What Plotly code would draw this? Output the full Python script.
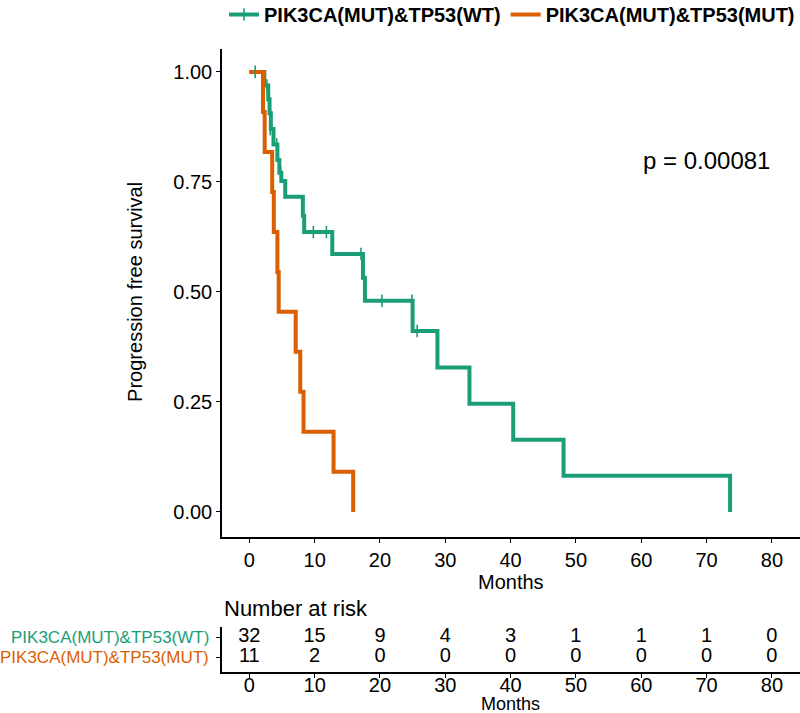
import plotly.graph_objects as go

# ---- data ----
wt_name = "PIK3CA(MUT)&TP53(WT)"
mut_name = "PIK3CA(MUT)&TP53(MUT)"

wt_times = [0, 2.3, 2.9, 3.1, 3.3, 3.7, 4.3, 4.6, 4.9, 5.5, 8.2, 8.4, 12.7, 17.4, 17.7,
            25.0, 28.8, 33.7, 40.4, 48.1, 73.6]
wt_surv = [1.0, 0.969, 0.938, 0.906, 0.870, 0.835, 0.800, 0.771, 0.752, 0.716, 0.673, 0.636,
           0.586, 0.532, 0.480, 0.411, 0.328, 0.246, 0.164, 0.082, 0.0]
wt_cens_times = [0.9, 2.7, 3.2, 4.2, 4.8, 9.8, 11.8, 17.1, 20.3, 24.9, 25.7]
wt_cens_surv = [1.0, 0.969, 0.870, 0.835, 0.771, 0.636, 0.636, 0.586, 0.480, 0.480, 0.411]

mut_times = [0, 2.1, 2.35, 3.5, 3.75, 4.3, 4.5, 7.1, 7.8, 8.3, 12.9, 15.9]
mut_surv = [1.0, 0.909, 0.818, 0.727, 0.636, 0.545, 0.455, 0.364, 0.273, 0.182, 0.091, 0.0]

risk_times = [0, 10, 20, 30, 40, 50, 60, 70, 80]
risk_wt = [32, 15, 9, 4, 3, 1, 1, 1, 0]
risk_mut = [11, 2, 0, 0, 0, 0, 0, 0, 0]

y_ticks = [0, 0.25, 0.5, 0.75, 1.0]
y_ticktext = ["0.00", "0.25", "0.50", "0.75", "1.00"]
p_text = "p = 0.00081"

GREEN = "#1B9E77"
ORANGE = "#D95F02"
FONT = "Liberation Sans, Arial, sans-serif"

fig = go.Figure()

fig.add_trace(go.Scatter(x=wt_times, y=wt_surv, mode="lines", line=dict(color=GREEN, width=4, shape="hv"),
                         showlegend=False, xaxis="x", yaxis="y"))
fig.add_trace(go.Scatter(x=mut_times, y=mut_surv, mode="lines", line=dict(color=ORANGE, width=4, shape="hv"),
                         showlegend=False, xaxis="x", yaxis="y"))
fig.add_trace(go.Scatter(x=wt_cens_times, y=wt_cens_surv, mode="markers",
                         marker=dict(symbol="line-ns", size=9, line=dict(color=GREEN, width=1.6)),
                         showlegend=False, xaxis="x", yaxis="y"))
# legend entries
fig.add_trace(go.Scatter(x=[None], y=[None], mode="lines+markers", name="<b>" + wt_name + "</b>",
                         line=dict(color=GREEN, width=4),
                         marker=dict(symbol="line-ns", size=9, line=dict(color=GREEN, width=1.6))))
fig.add_trace(go.Scatter(x=[None], y=[None], mode="lines", name="<b>" + mut_name + "</b>",
                         line=dict(color=ORANGE, width=4)))

# risk table
fig.add_trace(go.Scatter(x=risk_times, y=[2] * len(risk_times), mode="text", text=[str(v) for v in risk_wt],
                         textfont=dict(size=20, color="black", family=FONT), showlegend=False,
                         xaxis="x2", yaxis="y2"))
fig.add_trace(go.Scatter(x=risk_times, y=[1] * len(risk_times), mode="text", text=[str(v) for v in risk_mut],
                         textfont=dict(size=20, color="black", family=FONT), showlegend=False,
                         xaxis="x2", yaxis="y2"))

H = 713.0
W = 800.0
xdom = [222 / W, 1.0]
xr = [-4.18, 84.3]
axis_common = dict(showline=True, linecolor="black", linewidth=1.5, ticks="outside", ticklen=4,
                   tickwidth=1.2, tickcolor="black", showgrid=False, zeroline=False, automargin=False,
                   tickfont=dict(size=20, color="black", family=FONT))

fig.update_layout(
    width=800, height=713,
    margin=dict(l=0, r=0, t=0, b=0, autoexpand=False),
    paper_bgcolor="white", plot_bgcolor="white",
    font=dict(family=FONT, color="black"),
    xaxis=dict(domain=xdom, range=xr, tickvals=risk_times, anchor="y", **axis_common),
    yaxis=dict(domain=[1 - 537 / H, 1 - 49 / H], range=[-0.057, 1.052], tickvals=y_ticks,
               ticktext=y_ticktext, anchor="x", **axis_common),
    xaxis2=dict(domain=xdom, range=xr, tickvals=risk_times, anchor="y2", ticklabelstandoff=-10,
                **axis_common),
    yaxis2=dict(domain=[1 - 672 / H, 1 - 627 / H], range=[0.25, 2.5], tickvals=[1, 2],
                ticktext=["", ""], anchor="x2", **axis_common),
    legend=dict(orientation="h", x=224 / W, xanchor="left", y=1.007, yanchor="top",
                font=dict(size=20, color="black", family=FONT), bgcolor="rgba(0,0,0,0)"),
    annotations=[
        dict(text="Progression free survival", xref="paper", yref="y", x=135 / W, y=0.5,
             xanchor="center", yanchor="middle", textangle=-90, showarrow=False, font=dict(size=20)),
        dict(text="Months", xref="x", yref="paper", x=40.0, y=1 - 582 / H, xanchor="center",
             yanchor="middle", showarrow=False, font=dict(size=20)),
        dict(text=p_text, xref="paper", yref="paper", x=706 / W, y=1 - 160 / H, xanchor="center",
             yanchor="middle", showarrow=False, font=dict(size=24)),
        dict(text="Number at risk", xref="paper", yref="paper", x=222 / W, xanchor="left",
             y=1 - 608 / H, yanchor="middle", showarrow=False, font=dict(size=22)),
        dict(text=wt_name, xref="paper", yref="y2", x=211 / W, xanchor="right", y=2,
             yanchor="middle", showarrow=False, font=dict(size=17, color=GREEN)),
        dict(text=mut_name, xref="paper", yref="y2", x=211 / W, xanchor="right", y=1,
             yanchor="middle", showarrow=False, font=dict(size=17, color=ORANGE)),
        dict(text="Months", xref="x2", yref="paper", x=40.0, y=1 - 704 / H, xanchor="center",
             yanchor="middle", showarrow=False, font=dict(size=18)),
    ],
)

fig.write_html("out.html", config={"displayModeBar": False},
               post_script="document.body.style.margin='0px';")
